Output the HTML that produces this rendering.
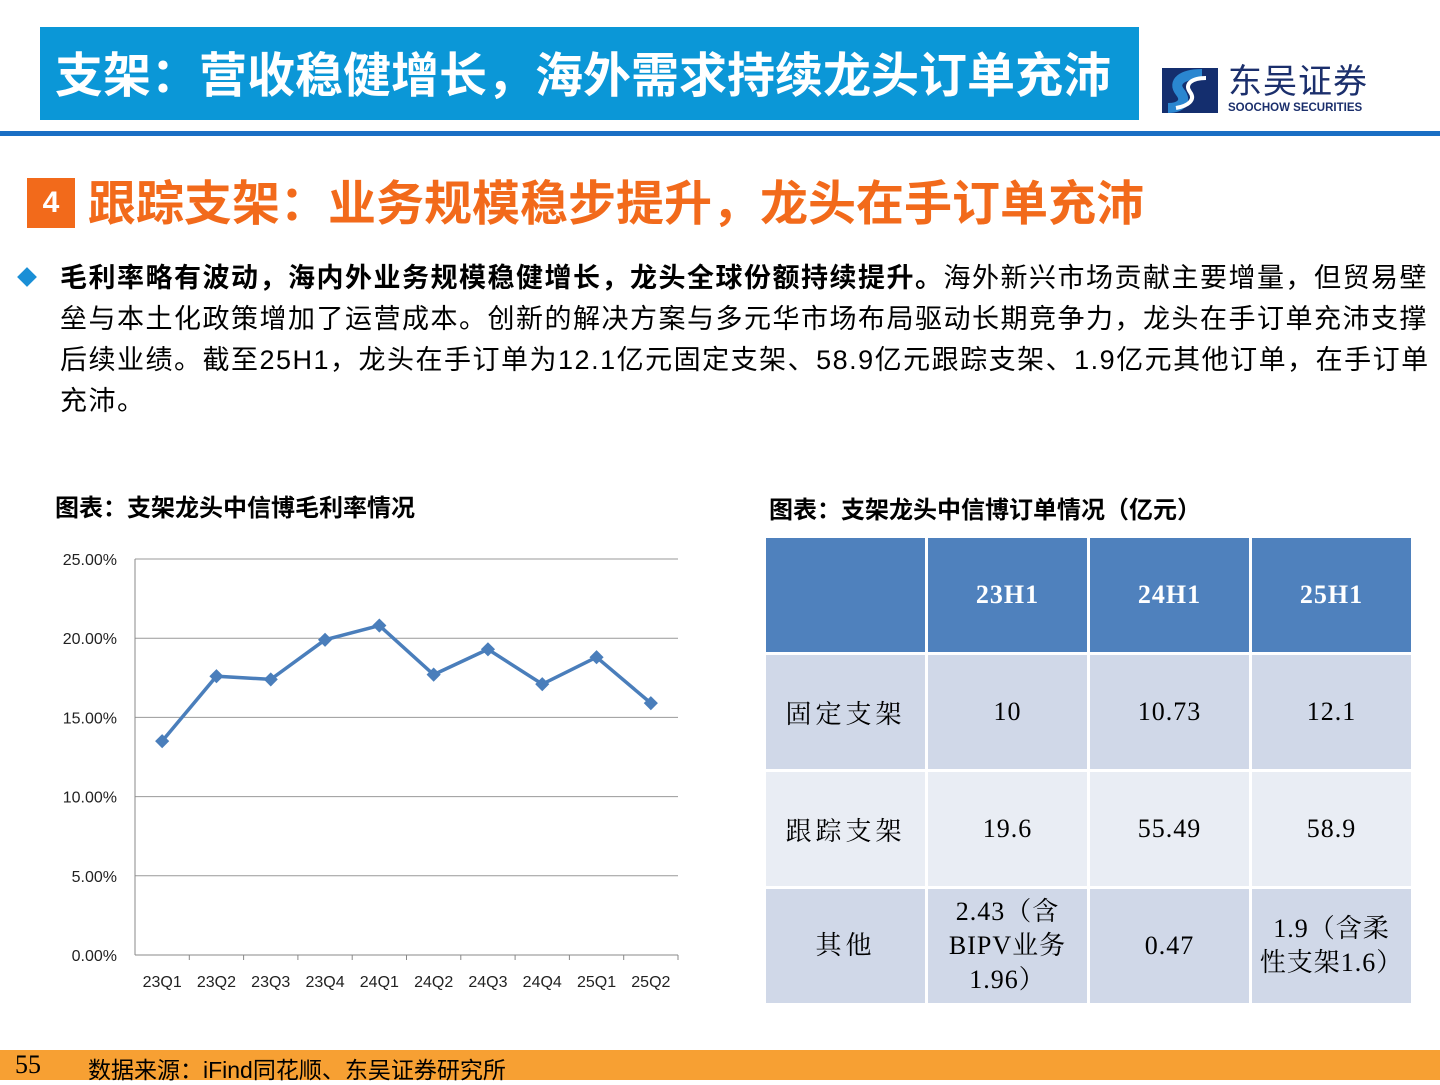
<!DOCTYPE html>
<html><head><meta charset="utf-8">
<style>
body{margin:0;width:1440px;height:1080px;position:relative;background:#fff;font-family:"Liberation Sans","Noto Sans CJK SC",sans-serif;overflow:hidden}
.abs{position:absolute}
table{border-collapse:separate;border-spacing:3px;table-layout:fixed}
td{padding:0}
</style></head><body>
<div class="abs" style="left:40px;top:27px;width:1099px;height:93px;background:#0b97d7;"></div>
<div class="abs" style="left:55px;top:47px;font-size:48px;line-height:60px;font-weight:bold;color:#fff;white-space:nowrap;">支架：营收稳健增长，海外需求持续龙头订单充沛</div>
<div class="abs" style="left:1162px;top:68px;width:56px;height:45px;background:#142e6e;overflow:hidden">
<svg width="56" height="45"><path d="M40 6 C20 6 10 14 18 24 C26 34 18 40 6 40" stroke="#2a86d0" stroke-width="10" fill="none"/><path d="M44 10 C30 10 22 16 28 24 C34 32 26 38 14 40" stroke="#fff" stroke-width="4" fill="none"/></svg></div>
<div class="abs" style="left:1228px;top:64px;font-size:34px;line-height:36px;color:#1b2f6c;letter-spacing:1px">东吴证券</div>
<div class="abs" style="left:1228px;top:102px;font-size:11.5px;line-height:13px;font-weight:bold;color:#1b2f6c;">SOOCHOW SECURITIES</div>
<div class="abs" style="left:0;top:131px;width:1440px;height:5px;background:#1a6fc4"></div>
<div class="abs" style="left:27px;top:178px;width:48px;height:50px;background:#f26a1b;color:#fff;font-size:30px;font-weight:bold;text-align:center;line-height:50px">4</div>
<div class="abs" style="left:88px;top:174px;font-size:48px;line-height:62px;font-weight:bold;color:#f26a1b;white-space:nowrap">跟踪支架：业务规模稳步提升，龙头在手订单充沛</div>
<div class="abs" style="left:20px;top:270px;width:14px;height:14px;background:#1a8fd6;transform:rotate(45deg)"></div>
<div class="abs" style="left:60px;top:258px;font-size:27px;line-height:41px;letter-spacing:1.5px;color:#000;white-space:nowrap"><b>毛利率略有波动，海内外业务规模稳健增长，龙头全球份额持续提升。</b>海外新兴市场贡献主要增量，但贸易壁<br>垒与本土化政策增加了运营成本。创新的解决方案与多元华市场布局驱动长期竞争力，龙头在手订单充沛支撑<br>后续业绩。截至25H1，龙头在手订单为12.1亿元固定支架、58.9亿元跟踪支架、1.9亿元其他订单，在手订单<br>充沛。</div>
<div class="abs" style="left:55px;top:488px;font-size:24px;font-weight:bold">图表：支架龙头中信博毛利率情况</div>
<div class="abs" style="left:769px;top:490px;font-size:24px;font-weight:bold">图表：支架龙头中信博订单情况（亿元）</div>
<svg class="abs" id="chart" style="left:0;top:0" width="720" height="1010"></svg>
<script>
const categories=["23Q1","23Q2","23Q3","23Q4","24Q1","24Q2","24Q3","24Q4","25Q1","25Q2"];
const values=[13.5,17.6,17.4,19.9,20.8,17.7,19.3,17.1,18.8,15.9];
const yTicks=[0,5,10,15,20,25];
const svg=document.getElementById('chart');
const NS='http://www.w3.org/2000/svg';
const x0=135,x1=678,y0=955,y1=559;
const xs=i=>x0+(x1-x0)/categories.length*(i+0.5);
const ys=v=>y0-(v/25)*(y0-y1);
function mk(t,a){const e=document.createElementNS(NS,t);for(const k in a)e.setAttribute(k,a[k]);svg.appendChild(e);return e;}
yTicks.forEach(t=>{
const g=mk('line',{x1:x0,x2:x1,y1:ys(t),y2:ys(t),stroke:t===0?'#888':'#999','stroke-width':1});


const l=mk('text',{x:117,y:ys(t)+6,'text-anchor':'end','font-size':16,fill:'#222','font-family':'Liberation Sans'});
l.textContent=t.toFixed(2)+'%';


});
const ax=mk('line',{x1:x0,x2:x0,y1:y1,y2:y0,stroke:'#888'});


categories.forEach((c,i)=>{
const l=mk('text',{x:xs(i),y:987,'text-anchor':'middle','font-size':16,fill:'#222','font-family':'Liberation Sans'});
l.textContent=c;


const tk=mk('line',{x1:x0+(x1-x0)/10*(i+1),x2:x0+(x1-x0)/10*(i+1),y1:y0,y2:y0+5,stroke:'#888'});


});
const p=mk('polyline',{points:values.map((v,i)=>xs(i)+','+ys(v)).join(' '),fill:'none',stroke:'#4a7ebb','stroke-width':3.5});


values.forEach((v,i)=>{
const m=mk('rect',{x:xs(i)-5,y:ys(v)-5,width:10,height:10,fill:'#4a7ebb',transform:`rotate(45 ${xs(i)} ${ys(v)})`});


});
</script>
<table class="abs" style="left:763px;top:535px;width:651px;font-family:'Liberation Serif','Noto Serif CJK SC',serif;font-size:26px;text-align:center;letter-spacing:1px">
<tr style="height:114px;background:#4f81bd;color:#fff;font-weight:bold"><td></td><td>23H1</td><td>24H1</td><td>25H1</td></tr>
<tr style="height:114px;background:#d0d8e8"><td style="letter-spacing:4px">固定支架</td><td>10</td><td>10.73</td><td>12.1</td></tr>
<tr style="height:114px;background:#e9edf4"><td style="letter-spacing:4px">跟踪支架</td><td>19.6</td><td>55.49</td><td>58.9</td></tr>
<tr style="height:114px;background:#d0d8e8;line-height:34px"><td style="letter-spacing:4px">其他</td><td>2.43（含<br>BIPV业务<br>1.96）</td><td>0.47</td><td>1.9（含柔<br>性支架1.6）</td></tr>
</table>
<div class="abs" style="left:0;top:1050px;width:1440px;height:30px;background:#f7a033"></div>
<div class="abs" style="left:15px;top:1050px;font-size:26px;font-family:'Liberation Serif',serif">55</div>
<div class="abs" style="left:88px;top:1051px;font-size:23px">数据来源：iFind同花顺、东吴证券研究所</div>
</body></html>
